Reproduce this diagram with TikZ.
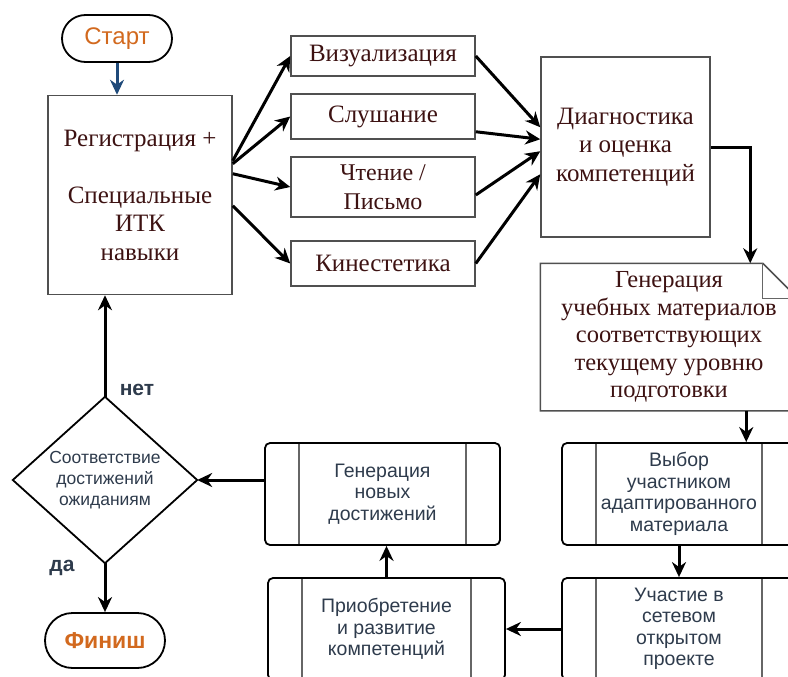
\documentclass[tikz,border=0pt]{standalone}
\usepackage{fontspec}
\setmainfont{Liberation Serif}
\setsansfont{Liberation Sans}
\usetikzlibrary{arrows.meta,calc}
\definecolor{serift}{HTML}{3D1212}
\definecolor{sanst}{HTML}{2E3B4C}
\definecolor{orng}{HTML}{D2691E}
\definecolor{navyc}{HTML}{1F4A7A}
\definecolor{boxgray}{HTML}{505050}
\tikzset{
  serifbox/.style={draw=boxgray, line width=1.5pt, font=\fontsize{25}{28.5}\selectfont, text=serift, align=center, inner sep=0pt},
  procbox/.style={draw=black, line width=1.8pt, rounded corners=5pt, font=\sffamily\fontsize{19.5}{21.5}\selectfont, text=sanst, align=center, inner sep=0pt,
    path picture={\draw[black!60, line width=1.2pt]
      ([xshift=34pt]path picture bounding box.north west) -- ([xshift=34pt]path picture bounding box.south west)
      ([xshift=-34pt]path picture bounding box.north east) -- ([xshift=-34pt]path picture bounding box.south east);}},
  termbox/.style={draw=black, line width=1.8pt, font=\sffamily\fontsize{24}{28}\selectfont, text=orng, inner sep=0pt},
  arr/.style={line width=3pt, -{Stealth[length=15pt,width=14pt]}},
  lbl/.style={font=\sffamily\bfseries\fontsize{21}{24}\selectfont, text=sanst, inner sep=0pt}
}
\begin{document}
\begin{tikzpicture}[x=1pt,y=-1pt]
\useasboundingbox (0,0) rectangle (788,677);
\clip (0,0) rectangle (788,677);
% nodes
\node[termbox, minimum width=110pt, minimum height=47pt, rounded corners=23.5pt] (start) at (117,38.5) {Старт};
\node[serifbox, minimum width=184pt, minimum height=199pt] (reg) at (140,195) {Регистрация +\\[28.5pt]Специальные\\ИТК\\навыки};
\node[serifbox, minimum width=184pt, minimum height=40pt] (vis) at (383,56) {Визуализация};
\node[serifbox, minimum width=184pt, minimum height=45pt] (lis) at (383,116.5) {Слушание};
\node[serifbox, minimum width=184pt, minimum height=60pt, font=\fontsize{24}{29}\selectfont] (rw) at (383,187) {Чтение /\\Письмо};
\node[serifbox, minimum width=184pt, minimum height=45pt] (kin) at (383,263.5) {Кинестетика};
\node[serifbox, minimum width=169pt, minimum height=180pt] (diag) at (625.5,147) {Диагностика\\и оценка\\компетенций};
\node[serifbox, draw=none, minimum width=256pt, minimum height=146pt, font=\fontsize{24.5}{27.5}\selectfont] (gen) at (669,337) {Генерация\\учебных материалов\\соответствующих\\текущему уровню\\подготовки};
\draw[boxgray, line width=1.5pt] (gen.north west) -- ($(gen.north east)+(-35,0)$) -- ($(gen.north east)+(0,35)$) -- (gen.south east) -- (gen.south west) -- cycle;
\draw[black!60, line width=0.8pt] ($(gen.north east)+(-35,0)$) -- ($(gen.north east)+(-35,35)$) -- ($(gen.north east)+(0,35)$);
\node[procbox, minimum width=234pt, minimum height=102pt] (vyb) at (679,494) {Выбор\\участником\\адаптированного\\материала};
\node[procbox, minimum width=234pt, minimum height=102pt] (uch) at (679,629) {Участие в\\сетевом\\открытом\\проекте};
\node[procbox, minimum width=237pt, minimum height=102pt] (prio) at (386.5,629) {Приобретение\\и развитие\\компетенций};
\node[procbox, minimum width=235pt, minimum height=102pt] (gnew) at (382.5,494) {Генерация\\новых\\достижений};
\node[font=\sffamily\fontsize{17.5}{21}\selectfont, text=sanst, align=center, inner sep=0pt, minimum width=184pt, minimum height=166pt] (dec) at (105,480) {Соответствие\\достижений\\ожиданиям};
\draw[black, line width=1.8pt] (dec.north) -- (dec.east) -- (dec.south) -- (dec.west) -- cycle;
\node[termbox, font=\sffamily\bfseries\fontsize{23}{27}\selectfont, minimum width=120pt, minimum height=55pt, rounded corners=27.5pt] (fin) at (105,640.5) {Финиш};
% connectors
\draw[arr, navyc] (start.south) -- (start.south |- reg.north);
\draw[arr] ($(reg.north east)+(0,66)$) -- (vis.west);
\draw[arr] ($(reg.north east)+(0,69)$) -- (lis.west);
\draw[arr] ($(reg.north east)+(0,79)$) -- (rw.west);
\draw[arr] ($(reg.north east)+(0,111)$) -- (kin.west);
\draw[arr] (vis.east) -- ($(diag.north west)+(0,71)$);
\draw[arr] ($(lis.south east)+(0,-8)$) -- ($(diag.north west)+(0,83)$);
\draw[arr] ($(rw.east)+(0,8)$) -- ($(diag.north west)+(0,95)$);
\draw[arr] (kin.east) -- ($(diag.north west)+(0,118)$);
\draw[arr] (diag.east) -| ($(gen.north west)+(210,0)$);
\coordinate (g1) at ($(gen.south west)+(206,0)$);
\draw[arr] (g1) -- (g1 |- vyb.north);
\draw[arr] (vyb.south) -- (uch.north);
\draw[arr] (uch.west) -- (prio.east);
\draw[arr] (prio.north) -- (prio.north |- gnew.south);
\draw[arr] (gnew.west |- dec.east) -- (dec.east);
\draw[arr] (dec.north) -- (dec.north |- reg.south);
\draw[arr] (dec.south) -- (fin.north);
\node[lbl] (no) at (137,390) {нет};
\node[lbl] (yes) at (62,568) {да};
\end{tikzpicture}
\end{document}
